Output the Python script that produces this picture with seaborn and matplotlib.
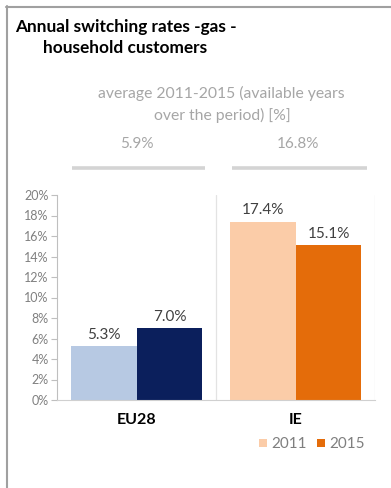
import numpy as np
import pandas as pd
import seaborn as sns
import matplotlib.pyplot as plt
from matplotlib.lines import Line2D
from matplotlib.patches import Rectangle

# --- data -------------------------------------------------------------
regions = ["EU28", "IE"]
years = ["2011", "2015"]
rate_2011 = [5.3, 17.4]
rate_2015 = [7.0, 15.1]
avg_2011_2015 = [5.9, 16.8]
y_ticks = [0, 2, 4, 6, 8, 10, 12, 14, 16, 18, 20]

bar_colors = {
    "EU28": ["#B7C9E3", "#0B1F5C"],
    "IE": ["#FBCCA8", "#E46C0A"],
}

df = pd.DataFrame({
    "region": regions * 2,
    "year": [years[0]] * 2 + [years[1]] * 2,
    "rate": rate_2011 + rate_2015,
})

# --- figure -----------------------------------------------------------
sns.set_style("white")
plt.rcParams["font.family"] = ["Lato", "DejaVu Sans"]

W, H = 391, 488
fig = plt.figure(figsize=(W / 100, H / 100), dpi=100)


def fx(x):
    return x / W


def fy(y):
    return 1 - y / H


ax = fig.add_axes([fx(57), fy(400), fx(375) - fx(57), fy(195) - fy(400)])

sns.barplot(data=df, x="region", y="rate", hue="year", hue_order=years,
            order=regions, width=0.83, ax=ax, legend=False,
            saturation=1, edgecolor="none", linewidth=0)

for i, cont in enumerate(ax.containers):
    for j, patch in enumerate(cont.patches):
        patch.set_facecolor(bar_colors[regions[j]][i])
    vals = [patch.get_height() for patch in cont.patches]
    ax.bar_label(cont, labels=[f"{v:.1f}%" for v in vals], padding=3,
                 fontsize=11, color="#404040")

ax.set_xlim(-0.5, 1.5)
ax.set_ylim(0, 20)
ax.set_yticks(y_ticks)
ax.set_yticklabels([f"{t}%" for t in y_ticks], fontsize=9, color="#808080")
ax.tick_params(axis="y", length=4, width=0.8, color="#BFBFBF", pad=2, left=True)
ax.set_xticks([0, 1])
ax.set_xticklabels(regions, fontsize=11.5, fontweight="bold", color="#000000")
ax.tick_params(axis="x", length=0, pad=9)
ax.set_xlabel("")
ax.set_ylabel("")

for side in ["top", "right"]:
    ax.spines[side].set_visible(False)
ax.spines["left"].set_color("#BFBFBF")
ax.spines["bottom"].set_color("#D0D0D0")
ax.spines["left"].set_linewidth(0.8)
ax.spines["bottom"].set_linewidth(0.8)

# separators between the two country panels
for xv in [0.5, 1.5]:
    ax.axvline(xv, color="#E3E3E3", lw=0.9, zorder=0)

# --- text around the chart -------------------------------------------
fig.text(fx(15), fy(32), "Annual switching rates -gas -", fontsize=12.4,
         fontweight="bold", color="#000000", va="baseline", ha="left")
fig.text(fx(43), fy(53), "household customers", fontsize=12.4,
         fontweight="bold", color="#000000", va="baseline", ha="left")

sub_color = "#A6A6A6"
fig.text(fx(221), fy(98), "average 2011-2015 (available years", fontsize=11.3,
         color=sub_color, ha="center", va="baseline")
fig.text(fx(222), fy(120), "over the period) [%]", fontsize=11.3,
         color=sub_color, ha="center", va="baseline")

avg_centers = [137, 298]
for cx, val in zip(avg_centers, avg_2011_2015):
    fig.text(fx(cx), fy(148), f"{val:.1f}%", fontsize=11, color=sub_color,
             ha="center", va="baseline")
for x0, x1 in [(72, 205), (232, 367)]:
    fig.add_artist(Line2D([fx(x0), fx(x1)], [fy(168), fy(168)],
                          color="#D4D4D4", lw=2.6, solid_capstyle="butt"))

# legend
for sx, label, col in [(263, "2011", bar_colors["IE"][0]),
                       (321, "2015", bar_colors["IE"][1])]:
    fig.add_artist(Rectangle((fx(sx - 4), fy(447)), fx(8), fy(439) - fy(447),
                             facecolor=col, edgecolor="none",
                             transform=fig.transFigure))
    fig.text(fx(sx + 8), fy(448), label, fontsize=11, color="#7F7F7F",
             ha="left", va="baseline")

# frame
frame_col = "#A0A0A0"
fig.add_artist(Line2D([fx(6), fx(391)], [fy(6.5), fy(6.5)], color=frame_col, lw=1.5))
fig.add_artist(Line2D([fx(6.5), fx(6.5)], [fy(6), fy(488)], color=frame_col, lw=1.5))

fig.savefig("out.png", dpi=100)
